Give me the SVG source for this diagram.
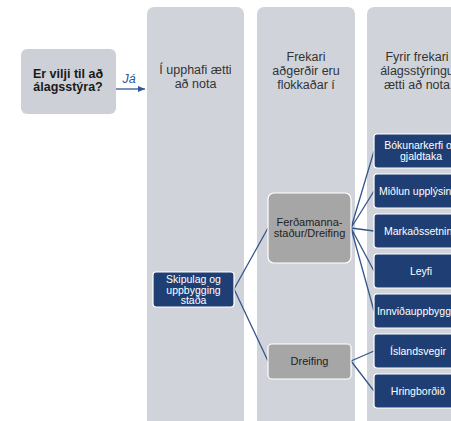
<svg xmlns="http://www.w3.org/2000/svg" width="451" height="421" viewBox="0 0 451 421">
<defs>
<style>
.col{fill:#d0d4da;}
.q{fill:#cdd0d6;}
.blue{fill:#1f3f74;stroke:#ffffff;stroke-width:1.2;}
.gray{fill:#a6a6a6;stroke:#ffffff;stroke-width:1.2;}
.t{font-family:"Liberation Sans",Arial,sans-serif;text-anchor:middle;}
.ct{font-size:12.5px;fill:#333333;}
.wt{font-size:10.5px;fill:#ffffff;}
.gt{font-size:11px;fill:#222222;}
.conn{stroke:#34568a;stroke-width:1.3;fill:none;}
</style>
<marker id="ah" markerWidth="8" markerHeight="8" refX="7" refY="4" orient="auto" markerUnits="userSpaceOnUse">
<path d="M0,1 L7,4 L0,7 Z" fill="#2f5597"/>
</marker>
</defs>
<rect width="451" height="421" fill="#ffffff"/>
<g id="col1"><rect class="col" x="147" y="7" width="97" height="420" rx="7"/>
<text class="t ct" x="195.5" y="74">Í upphafi ætti</text><text class="t ct" x="195.5" y="88">að nota</text></g>
<g id="col2"><rect class="col" x="257" y="7" width="98" height="420" rx="7"/>
<text class="t ct" x="306" y="61">Frekari</text><text class="t ct" x="306" y="75">aðgerðir eru</text><text class="t ct" x="306" y="89">flokkaðar í</text></g>
<g id="col3"><rect class="col" x="367" y="7" width="100" height="420" rx="7"/>
<text class="t ct" x="417" y="61">Fyrir frekari</text><text class="t ct" x="417" y="75">álagsstýringu</text><text class="t ct" x="417" y="89">ætti að nota</text></g>
<g id="question"><rect class="q" x="21" y="49" width="95" height="65" rx="6"/>
<text class="t" x="68" y="78" font-size="12.5" font-weight="bold" fill="#1a1a1a">Er vilji til að</text>
<text class="t" x="68" y="91" font-size="12.5" font-weight="bold" fill="#1a1a1a">álagsstýra?</text></g>
<g id="connectors">
<line x1="116" y1="89" x2="145" y2="89" stroke="#2f5597" stroke-width="1.3" marker-end="url(#ah)"/>
<text class="t" x="129" y="83" font-size="12.5" font-style="italic" fill="#2f5597">Já</text>
<path class="conn" d="M234,289 L268,228 M234,289 L268,361"/>
<path class="conn" d="M351,228 L374,151 M351,228 L374,191 M351,228 L374,231 M351,228 L374,271 M351,228 L374,311"/>
<path class="conn" d="M351,361 L374,351 M351,361 L374,391"/>
</g>
<g id="skipulag"><rect class="blue" x="153" y="272" width="81" height="35" rx="3"/>
<text class="t wt" x="193.5" y="283">Skipulag og</text><text class="t wt" x="193.5" y="293.5">uppbygging</text><text class="t wt" x="193.5" y="304">staða</text></g>
<g id="ferdamanna"><rect class="gray" x="268" y="193" width="83" height="70" rx="6"/>
<text class="t gt" x="309.5" y="226">Ferðamanna-</text><text class="t gt" x="309.5" y="237">staður/Dreifing</text></g>
<g id="dreifing"><rect class="gray" x="268" y="344" width="83" height="35" rx="4"/>
<text class="t gt" x="309.5" y="365">Dreifing</text></g>
<g id="bokun"><rect class="blue" x="374" y="134" width="94" height="34" rx="3"/>
<text class="t wt" x="421" y="149">Bókunarkerfi og</text><text class="t wt" x="421" y="160">gjaldtaka</text></g>
<g id="midlun"><rect class="blue" x="374" y="174" width="94" height="34" rx="3"/>
<text class="t wt" x="421" y="195">Miðlun upplýsinga</text></g>
<g id="markad"><rect class="blue" x="374" y="214" width="94" height="34" rx="3"/>
<text class="t wt" x="421" y="235">Markaðssetning</text></g>
<g id="leyfi"><rect class="blue" x="374" y="254" width="94" height="34" rx="3"/>
<text class="t wt" x="421" y="275">Leyfi</text></g>
<g id="innvidi"><rect class="blue" x="374" y="294" width="94" height="34" rx="3"/>
<text class="t wt" x="421" y="315">Innviðauppbygging</text></g>
<g id="islandsvegir"><rect class="blue" x="374" y="334" width="94" height="34" rx="3"/>
<text class="t wt" x="418" y="355">Íslandsvegir</text></g>
<g id="hringbordid"><rect class="blue" x="374" y="374" width="94" height="34" rx="3"/>
<text class="t wt" x="418" y="395">Hringborðið</text></g>
</svg>
